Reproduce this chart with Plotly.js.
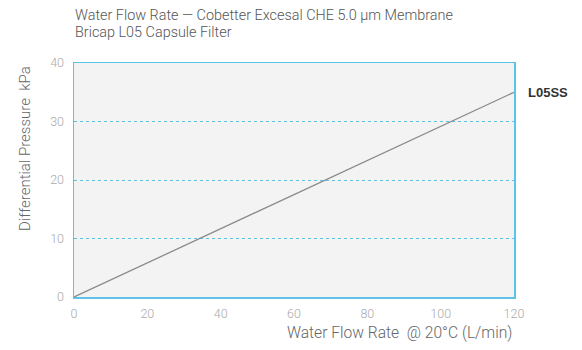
<!DOCTYPE html>
<html>
<head>
<meta charset="utf-8">
<script src="https://cdn.plot.ly/plotly-3.0.1.min.js"></script>
<style>html,body{margin:0;padding:0;background:#fff;}#chart{width:582px;height:350px;}</style>
</head>
<body>
<div id="chart"></div>
<script>
const flowRate = [0, 120];
const pressure = [0, 35];
const seriesName = "L05SS";
const xTicks = [0, 20, 40, 60, 80, 100, 120];
const yTicks = [0, 10, 20, 30, 40];
const titleLines = ["Water Flow Rate — Cobetter Excesal CHE 5.0 µm Membrane", "Bricap L05 Capsule Filter"];
const xTitle = "Water Flow Rate  @ 20°C (L/min)";
const yTitle = "Differential Pressure  kPa";

const font = "Roboto, 'Open Sans', sans-serif";
const trace = {
  x: flowRate, y: pressure, mode: "lines", name: seriesName,
  line: {color: "#8a8a8a", width: 1.3}, showlegend: false, hoverinfo: "skip"
};
const titleAnn = titleLines.map((t, i) => ({
  text: t, xref: "paper", yref: "paper", x: -1 / 440, xanchor: "left", align: "left",
  y: (297 - (15 + 17 * i)) / 234, yanchor: "middle", showarrow: false,
  font: {family: font, size: 14.4, color: "#555", weight: 300}
}));
const layout = {
  width: 582, height: 350,
  margin: {l: 74, r: 68, t: 63, b: 53},
  paper_bgcolor: "#ffffff", plot_bgcolor: "#f2f3f2",
  font: {family: font, color: "#999"},
  annotations: titleAnn.concat([
    {text: yTitle, xref: "paper", yref: "paper", x: -(74 - 25) / 440, xanchor: "center",
     y: (297 - 149) / 234, yanchor: "middle", textangle: -90, showarrow: false,
     font: {family: font, size: 15, color: "#666", weight: 300}},
    {text: xTitle, xref: "paper", yref: "paper", x: 1, xanchor: "right", y: -36/234, yanchor: "middle",
     showarrow: false, font: {family: font, size: 15.6, color: "#666", weight: 300}},
    {text: seriesName, xref: "x", yref: "y", x: flowRate[flowRate.length-1], y: pressure[pressure.length-1],
     xanchor: "left", yanchor: "middle", xshift: 12, showarrow: false,
     font: {family: "'Liberation Sans', Arial, sans-serif", size: 13, color: "#333", weight: 700}}
  ]),
  xaxis: {range: [0, 120], tickvals: xTicks, ticks: "", showgrid: false, zeroline: false,
          showline: true, linecolor: "#5cc3e6", linewidth: 1.5, mirror: true, ticklabelstandoff: 4,
          tickfont: {family: font, size: 12.5, color: "#aaa", weight: 300}},
  yaxis: {range: [0, 40], tickvals: yTicks, ticks: "", zeroline: false,
          showgrid: true, gridcolor: "#5cc3e6", griddash: "3px,3px", gridwidth: 1,
          showline: true, linecolor: "#5cc3e6", linewidth: 1.5, mirror: true, ticklabelstandoff: 6,
          tickfont: {family: font, size: 12.5, color: "#aaa", weight: 300}}
};
Plotly.newPlot("chart", [trace], layout, {displayModeBar: false, staticPlot: true});
</script>
</body>
</html>
